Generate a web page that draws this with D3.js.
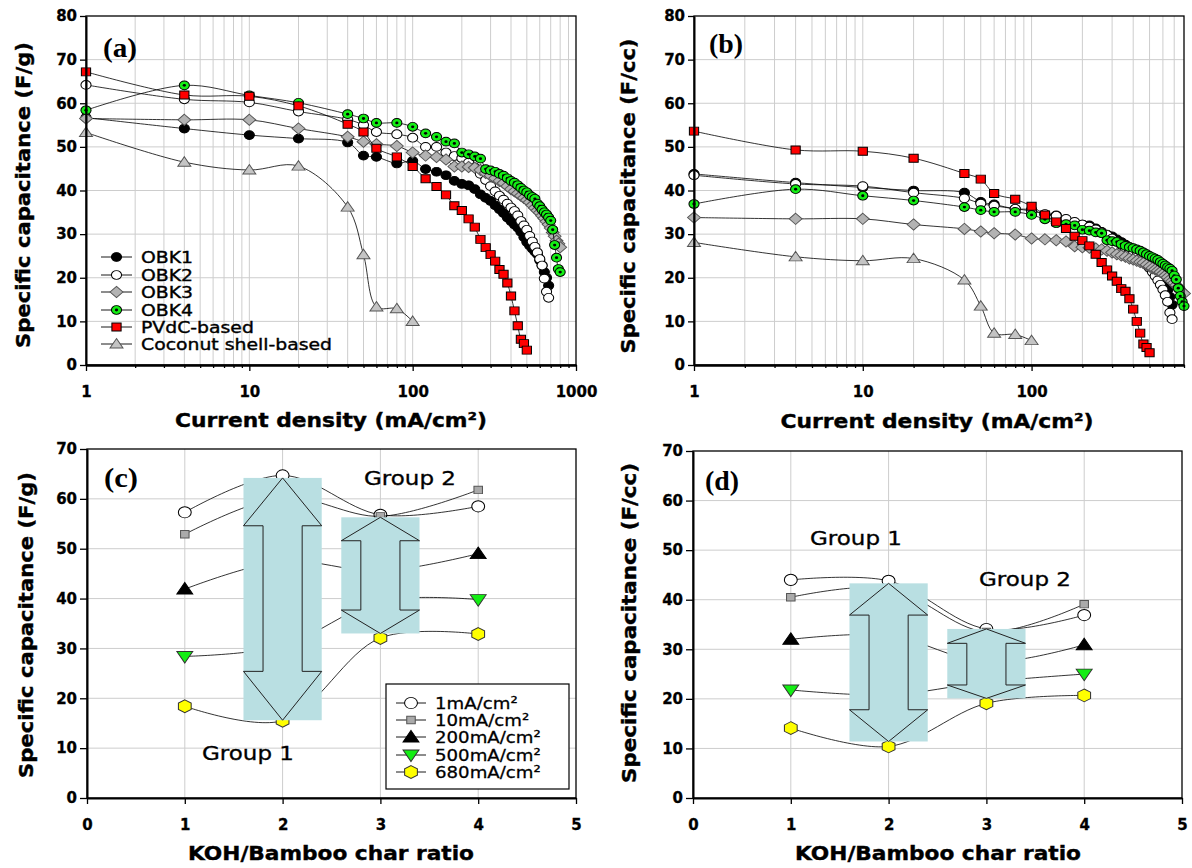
<!DOCTYPE html>
<html>
<head>
<meta charset="utf-8">
<script src="https://d3js.org/d3.v7.min.js"></script>
<style>
  html, body { margin: 0; padding: 0; background: #fff; overflow: hidden; }
  svg { display: block; }
  text { font-family: "DejaVu Sans", sans-serif; fill: #000; }
</style>
</head>
<body>
<svg id="fig" width="1192" height="868"></svg>
<script>
// ── data ──────────────────────────────────────────────
// current densities (mA/cm2) shared by panels (a) and (b)
const density = [1, 4, 10, 20, 40, 50, 60, 80, 100, 120, 140, 160, 180, 200, 220, 240, 260, 280, 300,
  320, 340, 360, 380, 400, 420, 440, 460, 480, 500, 520, 540, 560, 580, 600, 620, 640, 660, 680,
  700, 720, 740, 760, 780, 800];

const seriesNames = ["OBK1", "OBK2", "OBK3", "OBK4", "PVdC-based", "Coconut shell-based"];

// (a) F/g
const gravOBK1 = [56.7, 54.2, 52.7, 51.9, 51.0, 48.0, 47.7, 46.2, 46.8, 44.9, 44.3, 43.5, 42.2, 41.5,
  41.2, 40.3, 39.1, 38.3, 37.6, 36.6, 35.7, 34.8, 33.8, 33.0, 32.2, 31.5, 30.5, 29.3, 28.2,
  27.4, 26.7, 26.0, 25.4, 24.0, 22.8, 21.3, 20.0, 18.2];
const gravOBK2 = [64.2, 60.9, 60.2, 58.1, 56.3, 55.0, 53.4, 52.9, 52.1, 50.0, 50.0, 48.7, 47.9, 47.4,
  46.4, 45.3, 43.8, 42.4, 41.0, 39.8, 38.8, 37.9, 37.0, 36.1, 35.3, 34.3, 33.0, 32.0, 31.0,
  29.6, 28.3, 27.1, 25.8, 24.3, 22.8, 19.8, 16.8, 15.4];
const gravOBK3 = [56.5, 56.2, 56.2, 54.2, 52.3, 51.2, 50.6, 50.2, 48.7, 48.0, 47.7, 47.1, 45.5, 45.5,
  45.4, 45.2, 44.7, 44.0, 43.4, 42.8, 42.2, 41.7, 41.0, 40.3, 39.8, 39.3, 38.8, 38.3, 37.8,
  37.3, 36.6, 36.0, 35.4, 34.9, 34.2, 33.6, 32.9, 32.2, 31.4, 30.4, 29.5, 28.5, 27.8, 27.0];
const gravOBK4 = [58.4, 64.1, 61.8, 60.1, 57.5, 56.5, 55.5, 55.5, 54.6, 53.1, 52.3, 51.2, 50.8, 48.7,
  48.3, 47.8, 47.3, 44.9, 44.6, 44.3, 43.8, 43.4, 42.8, 42.2, 41.8, 41.2, 40.6, 40.0, 39.6,
  38.9, 38.5, 38.1, 37.0, 36.4, 35.6, 35.0, 34.5, 33.8, 33.1, 31.0, 27.5, 24.6, 22.0, 21.3];
const gravPVdC = [67.2, 61.9, 61.6, 59.4, 55.2, 53.4, 49.7, 47.7, 45.5, 42.7, 40.9, 39.0, 36.5, 35.4,
  33.5, 31.6, 28.8, 26.9, 25.3, 23.8, 21.9, 20.8, 18.8, 15.8, 12.4, 9.0, 5.9, 4.9, 3.4];
const gravCoconut = [53.3, 46.5, 44.7, 45.6, 36.2, 25.3, 13.3, 12.9, 10.0];

// (b) F/cc
const volOBK1 = [43.8, 41.8, 40.7, 40.0, 39.5, 37.4, 36.8, 35.8, 35.6, 34.5, 34.3, 33.3, 32.6, 32.2,
  32.0, 31.3, 30.5, 29.9, 29.5, 28.8, 28.2, 27.6, 27.0, 26.5, 25.9, 25.4, 24.8, 24.1, 23.5,
  22.9, 22.3, 21.6, 20.8, 19.8, 18.6, 17.2, 15.6, 13.8];
const volOBK2 = [43.5, 41.5, 41.0, 39.5, 38.2, 37.0, 36.5, 35.8, 35.3, 34.6, 34.2, 33.5, 32.8, 32.2,
  31.7, 31.1, 30.4, 29.8, 29.0, 28.3, 27.5, 26.8, 26.2, 25.6, 25.0, 24.3, 23.6, 22.9, 22.2,
  21.3, 20.4, 19.4, 18.4, 17.3, 16.0, 14.5, 12.0, 10.5];
const volOBK3 = [33.8, 33.5, 33.5, 32.2, 31.2, 30.6, 30.2, 29.9, 29.0, 28.8, 28.6, 28.3, 27.2, 27.0,
  26.9, 26.7, 26.5, 26.2, 25.8, 25.4, 25.1, 24.8, 24.4, 24.2, 23.9, 23.6, 23.4, 23.0, 22.6,
  22.2, 21.9, 21.6, 21.3, 20.9, 20.5, 20.1, 19.6, 19.2, 18.8, 18.3, 17.8, 17.2, 16.7, 16.4];
const volOBK4 = [36.9, 40.3, 38.8, 37.7, 36.2, 35.5, 35.1, 35.1, 34.4, 33.4, 32.5, 32.3, 32.0, 31.0,
  30.8, 30.4, 30.2, 28.6, 28.4, 28.2, 27.7, 27.3, 27.0, 26.8, 26.5, 26.2, 25.8, 25.4, 25.0,
  24.7, 24.4, 24.1, 23.6, 23.2, 22.8, 22.4, 22.1, 21.6, 20.5, 19.6, 17.6, 15.8, 14.5, 13.5];
const volPVdC = [53.6, 49.3, 49.0, 47.4, 43.9, 42.6, 39.3, 38.0, 36.4, 34.4, 32.8, 31.3, 29.5, 28.5,
  27.3, 25.4, 23.5, 21.8, 20.4, 19.2, 17.5, 16.9, 15.2, 12.8, 10.0, 7.3, 4.8, 4.0, 2.8];
const volCoconut = [28.1, 24.8, 23.9, 24.4, 19.5, 13.5, 7.3, 7.0, 5.6];

// (c), (d) versus KOH/char ratio
const ratios = [1, 2, 3, 4];
const rateLabels = ["1mA/cm²", "10mA/cm²", "200mA/cm²", "500mA/cm²", "680mA/cm²"];
const gravRate1 = [57.3, 64.7, 56.8, 58.5];
const gravRate10 = [52.9, 60.3, 56.5, 61.8];
const gravRate200 = [41.9, 47.5, 45.5, 49.0];
const gravRate500 = [28.4, 30.5, 39.5, 39.8];
const gravRate680 = [18.4, 15.5, 32.1, 32.9];
const volRate1 = [44.0, 43.8, 34.1, 36.9];
const volRate10 = [40.5, 42.3, 33.5, 39.1];
const volRate200 = [32.0, 32.8, 27.4, 30.9];
const volRate500 = [21.8, 20.8, 23.4, 25.0];
const volRate680 = [14.1, 10.4, 19.1, 20.7];

// double arrows (data units)
const arrowsGrav = [
  { x0: 1.6, x1: 2.4, s0: 1.8, s1: 2.2, top: 64.2, headTop: 54.6, headBot: 25.4, bottom: 15.6 },
  { x0: 2.6, x1: 3.4, s0: 2.8, s1: 3.2, top: 56.3, headTop: 51.6, headBot: 37.7, bottom: 33.0 }
];
const arrowsVol = [
  { x0: 1.6, x1: 2.4, s0: 1.8, s1: 2.2, top: 43.3, headTop: 36.9, headBot: 17.8, bottom: 11.4 },
  { x0: 2.6, x1: 3.4, s0: 2.8, s1: 3.2, top: 34.1, headTop: 31.2, headBot: 22.8, bottom: 20.1 }
];

// ── styles ────────────────────────────────────────────
const seriesStyle = [
  { shape: "circle", size: 4.4, fill: "#000", stroke: "#000" },
  { shape: "circle", size: 4.4, fill: "#fff", stroke: "#000" },
  { shape: "diamond", size: 5.6, fill: "#b3b3b3", stroke: "#555" },
  { shape: "dotcircle", size: 4.4, fill: "#14ee14", stroke: "#000" },
  { shape: "square", size: 4.0, fill: "#ff0000", stroke: "#000" },
  { shape: "triUp", size: 5.4, fill: "#c4c4c4", stroke: "#555" }
];
const rateStyle = [
  { shape: "circle", size: 5.6, fill: "#fff", stroke: "#000" },
  { shape: "square", size: 3.7, fill: "#aaa", stroke: "#555" },
  { shape: "triUp", size: 6.6, fill: "#000", stroke: "#000" },
  { shape: "triDown", size: 6.6, fill: "#14ee14", stroke: "#333" },
  { shape: "hex", size: 6.4, fill: "#ffff00", stroke: "#333" }
];
const MSX = 1.15;          // markers are a bit wider than tall in the original
const GRID = "#cdcdcd";
const BOXFILL = "#b9dfe2";

const svg = d3.select("#fig");

// plot areas
const boxA = { left: 86, top: 16, right: 576, bottom: 365 };
const boxB = { left: 694, top: 16, right: 1184, bottom: 365 };
const boxC = { left: 87, top: 449, right: 576, bottom: 798 };
const boxD = { left: 693, top: 451, right: 1182, bottom: 798 };

/**
 * marker outline centred on 0,0
 */
function markerPath(st) {
  const s = st.size;
  switch (st.shape) {
    case "circle":
    case "dotcircle":
      return d3.symbol(d3.symbolCircle, Math.PI * s * s)();
    case "square":
      return `M${-s},${-s}H${s}V${s}H${-s}Z`;
    case "diamond":
      return `M0,${-s}L${s},0L0,${s}L${-s},0Z`;
    case "triUp":
      return `M0,${-s}L${s * 1.05},${s * 0.75}L${-s * 1.05},${s * 0.75}Z`;
    case "triDown":
      return `M0,${s}L${s * 1.05},${-s * 0.75}L${-s * 1.05},${-s * 0.75}Z`;
    case "hex": {
      const pts = d3.range(6).map((k) => {
        const a = (-90 + 60 * k) * Math.PI / 180;
        return [s * Math.cos(a), s * Math.sin(a)];
      });
      return "M" + pts.map((p) => p.join(",")).join("L") + "Z";
    }
  }
}

function drawMarkers(parent, pts, st) {
  const m = parent.append("g").selectAll("g").data(pts).join("g")
    .attr("transform", (d) => `translate(${d[0]},${d[1]}) scale(${MSX},1)`);
  m.append("path")
    .attr("d", markerPath(st))
    .attr("fill", st.fill)
    .attr("stroke", st.stroke)
    .attr("stroke-width", 0.9);
  if (st.shape === "dotcircle") m.append("circle").attr("r", 1.4).attr("fill", "#000");
}

/**
 * stretch text horizontally to a given width
 */
function fitWidth(sel, w) {
  sel.attr("textLength", w).attr("lengthAdjust", "spacingAndGlyphs");
}

function styleAxis(sel) {
  sel.select(".domain").attr("stroke", "#000").attr("stroke-width", 2);
  sel.selectAll(".tick line").attr("stroke", "#000").attr("stroke-width", 1.3);
  sel.selectAll(".tick text")
    .attr("font-family", "DejaVu Sans")
    .attr("font-weight", "bold")
    .attr("font-size", 15)
    .attr("stroke", "#000").attr("stroke-width", 0.3)
    .attr("fill", "#000");
}

function gridLines(g, box, x, y, xs, ys) {
  g.append("g").selectAll("line").data(xs).join("line")
    .attr("x1", (d) => x(d)).attr("x2", (d) => x(d))
    .attr("y1", box.top).attr("y2", box.bottom)
    .attr("stroke", GRID).attr("stroke-width", 1);
  g.append("g").selectAll("line").data(ys).join("line")
    .attr("x1", box.left).attr("x2", box.right)
    .attr("y1", (d) => y(d)).attr("y2", (d) => y(d))
    .attr("stroke", GRID).attr("stroke-width", 1);
}

function frame(g, box) {
  g.append("rect")
    .attr("x", box.left).attr("y", box.top)
    .attr("width", box.right - box.left).attr("height", box.bottom - box.top)
    .attr("fill", "none").attr("stroke", "#000").attr("stroke-width", 1.3);
}

function titleY(text, x, y, w) {
  svg.append("text")
    .attr("transform", `translate(${x},${y}) rotate(-90)`)
    .attr("text-anchor", "middle")
    .attr("font-weight", "bold").attr("font-size", 20)
    .attr("stroke", "#000").attr("stroke-width", 0.4)
    .text(text)
    .call(fitWidth, w);
}

function titleX(text, x, y, w) {
  svg.append("text")
    .attr("x", x).attr("y", y)
    .attr("text-anchor", "middle")
    .attr("font-weight", "bold").attr("font-size", 20)
    .attr("stroke", "#000").attr("stroke-width", 0.4)
    .text(text)
    .call(fitWidth, w);
}

function panelTag(text, x, y) {
  svg.append("text")
    .attr("x", x).attr("y", y)
    .attr("font-weight", "bold").attr("font-size", 27)
    .style("font-family", "'Liberation Serif', serif")
    .text(text)
    .call(fitWidth, 34);
}

// ── (a), (b): capacitance vs current density ─────────
function drawLogPanel(box, xMax, majorTicks, values, withLegend) {
  const x = d3.scaleLog().domain([1, xMax]).range([box.left, box.right]);
  const y = d3.scaleLinear().domain([0, 80]).range([box.bottom, box.top]);
  const g = svg.append("g");

  gridLines(g, box, x, y,
    x.ticks().filter((v) => v > 1 && v < xMax),
    y.ticks(8).filter((v) => v > 0 && v < 80));

  const line = d3.line()
    .x((d) => x(d[0])).y((d) => y(d[1]))
    .curve(d3.curveCatmullRom.alpha(0.5));

  values.forEach((vals, i) => {
    const pts = vals.map((v, k) => [density[k], v]);
    g.append("path").datum(pts)
      .attr("d", line)
      .attr("fill", "none").attr("stroke", "#000").attr("stroke-width", 0.8);
    drawMarkers(g, pts.map((p) => [x(p[0]), y(p[1])]), seriesStyle[i]);
  });

  frame(g, box);

  g.append("g").attr("transform", `translate(${box.left},0)`)
    .call(d3.axisLeft(y).tickValues(y.ticks(8)).tickSize(6).tickSizeOuter(0).tickFormat(d3.format("d")))
    .call(styleAxis)
    .call((s) => s.selectAll(".tick text").attr("x", -9));

  const minor = x.ticks().filter((v) => !majorTicks.includes(v));
  g.append("g").attr("transform", `translate(0,${box.bottom})`)
    .call(d3.axisBottom(x).tickValues(minor).tickSize(3).tickSizeOuter(0).tickFormat(""))
    .call(styleAxis);
  g.append("g").attr("transform", `translate(0,${box.bottom})`)
    .call(d3.axisBottom(x).tickValues(majorTicks).tickSize(6).tickSizeOuter(0).tickFormat(d3.format("d")))
    .call(styleAxis)
    .call((s) => s.selectAll(".tick text").attr("y", 27).attr("dy", "0.35em"));

  if (withLegend) {
    const rowY = [257, 275, 292, 310, 327, 344];
    const lg = g.append("g");
    seriesNames.forEach((name, i) => {
      lg.append("line")
        .attr("x1", 101).attr("x2", 132).attr("y1", rowY[i]).attr("y2", rowY[i])
        .attr("stroke", "#000").attr("stroke-width", 0.9);
      drawMarkers(lg, [[116.5, rowY[i]]], seriesStyle[i]);
      const t = lg.append("text")
        .attr("x", 141).attr("y", rowY[i]).attr("dy", "0.36em")
        .attr("font-size", 16.5)
        .attr("stroke", "#000").attr("stroke-width", 0.4)
        .text(name);
      t.attr("textLength", t.node().getComputedTextLength() * 1.14).attr("lengthAdjust", "spacingAndGlyphs");
    });
  }
}

// ── (c), (d): capacitance vs KOH/char ratio ──────────
function drawRatioPanel(box, values, arrows, groups, withLegend) {
  const x = d3.scaleLinear().domain([0, 5]).range([box.left, box.right]);
  const y = d3.scaleLinear().domain([0, 70]).range([box.bottom, box.top]);
  const g = svg.append("g");

  gridLines(g, box, x, y,
    x.ticks(5).filter((v) => v > 0 && v < 5),
    y.ticks(7).filter((v) => v > 0 && v < 70));

  const line = d3.line()
    .x((d) => x(d[0])).y((d) => y(d[1]))
    .curve(d3.curveCatmullRom.alpha(0.5));

  values.forEach((vals, i) => {
    const pts = vals.map((v, k) => [ratios[k], v]);
    g.append("path").datum(pts)
      .attr("d", line)
      .attr("fill", "none").attr("stroke", "#000").attr("stroke-width", 0.8);
    drawMarkers(g, pts.map((p) => [x(p[0]), y(p[1])]), rateStyle[i]);
  });

  // shaded double arrows
  arrows.forEach((a) => {
    g.append("rect")
      .attr("x", x(a.x0)).attr("y", y(a.top))
      .attr("width", x(a.x1) - x(a.x0)).attr("height", y(a.bottom) - y(a.top))
      .attr("fill", BOXFILL);
    const mid = (a.x0 + a.x1) / 2;
    const poly = [[mid, a.top], [a.x1, a.headTop], [a.s1, a.headTop], [a.s1, a.headBot], [a.x1, a.headBot],
      [mid, a.bottom], [a.x0, a.headBot], [a.s0, a.headBot], [a.s0, a.headTop], [a.x0, a.headTop]];
    g.append("path")
      .attr("d", "M" + poly.map((p) => `${x(p[0])},${y(p[1])}`).join("L") + "Z")
      .attr("fill", "none").attr("stroke", "#222").attr("stroke-width", 1);
  });

  groups.forEach((gr) => {
    g.append("text")
      .attr("x", gr.x).attr("y", gr.y)
      .attr("font-size", 19)
      .attr("stroke", "#000").attr("stroke-width", 0.3)
      .text(gr.text)
      .call(fitWidth, 92);
  });

  if (withLegend) {
    const lg = g.append("g");
    lg.append("rect")
      .attr("x", 386).attr("y", 684).attr("width", 183).attr("height", 105)
      .attr("fill", "#fff").attr("stroke", "#000").attr("stroke-width", 1.2);
    const rowY = [703, 720, 737, 755, 772];
    rateLabels.forEach((lab, i) => {
      lg.append("line")
        .attr("x1", 396).attr("x2", 426).attr("y1", rowY[i]).attr("y2", rowY[i])
        .attr("stroke", "#000").attr("stroke-width", 0.9);
      drawMarkers(lg, [[411, rowY[i]]], rateStyle[i]);
      const t = lg.append("text")
        .attr("x", 435).attr("y", rowY[i]).attr("dy", "0.36em")
        .attr("font-size", 16.5)
        .attr("stroke", "#000").attr("stroke-width", 0.3)
        .text(lab);
      t.attr("textLength", t.node().getComputedTextLength() * 1.1).attr("lengthAdjust", "spacingAndGlyphs");
    });
  }

  frame(g, box);

  g.append("g").attr("transform", `translate(${box.left},0)`)
    .call(d3.axisLeft(y).tickValues(y.ticks(7)).tickSize(7).tickSizeOuter(0).tickFormat(d3.format("d")))
    .call(styleAxis)
    .call((s) => s.selectAll(".tick text").attr("x", -10));
  g.append("g").attr("transform", `translate(0,${box.bottom})`)
    .call(d3.axisBottom(x).tickValues(x.ticks(5)).tickSize(6).tickSizeOuter(0).tickFormat(d3.format("d")))
    .call(styleAxis)
    .call((s) => s.selectAll(".tick text").attr("y", 27).attr("dy", "0.35em"));
}

drawLogPanel(boxA, 1000, [1, 10, 100, 1000],
  [gravOBK1, gravOBK2, gravOBK3, gravOBK4, gravPVdC, gravCoconut], true);
drawLogPanel(boxB, 800, [1, 10, 100],
  [volOBK1, volOBK2, volOBK3, volOBK4, volPVdC, volCoconut], false);

drawRatioPanel(boxC, [gravRate1, gravRate10, gravRate200, gravRate500, gravRate680], arrowsGrav,
  [{ text: "Group 2", x: 364, y: 485 }, { text: "Group 1", x: 202, y: 760 }], true);
drawRatioPanel(boxD, [volRate1, volRate10, volRate200, volRate500, volRate680], arrowsVol,
  [{ text: "Group 1", x: 810, y: 545 }, { text: "Group 2", x: 979, y: 586 }], false);

// titles
titleY("Specific capacitance (F/g)", 30, 195, 306);
titleY("Specific capacitance (F/cc)", 635, 196, 315);
titleY("Specific capacitance (F/g)", 33, 625, 306);
titleY("Specific capacitance (F/cc)", 636, 623, 320);
titleX("Current density (mA/cm²)", 331, 427, 312);
titleX("Current density (mA/cm²)", 937, 428, 313);
titleX("KOH/Bamboo char ratio", 331, 860, 286);
titleX("KOH/Bamboo char ratio", 938, 860, 286);

panelTag("(a)", 103, 57);
panelTag("(b)", 709, 53);
panelTag("(c)", 104, 487);
panelTag("(d)", 705, 490);
</script>
</body>
</html>
